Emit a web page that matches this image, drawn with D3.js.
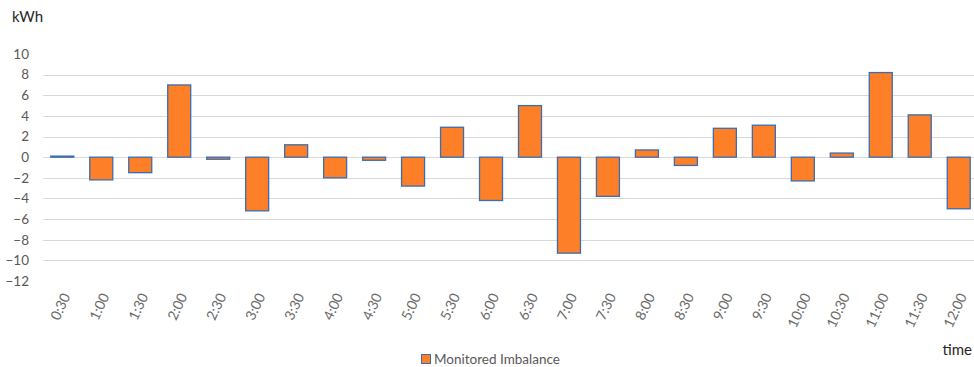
<!DOCTYPE html>
<html>
<head>
<meta charset="utf-8">
<script src="https://cdn.jsdelivr.net/npm/d3@7"></script>
<style>
  html, body { margin: 0; padding: 0; background: #fff; }
  svg { display: block; font-family: Lato, "Open Sans", sans-serif; }
</style>
</head>
<body>
<svg id="chart" width="974" height="367"></svg>
<script>
// Half-hourly time slots
const times = ["0:30","1:00","1:30","2:00","2:30","3:00","3:30","4:00","4:30","5:00","5:30","6:00",
               "6:30","7:00","7:30","8:00","8:30","9:00","9:30","10:00","10:30","11:00","11:30","12:00"];
// Monitored imbalance per slot (kWh)
const imbalance = [0.1, -2.2, -1.5, 7.0, -0.2, -5.2, 1.2, -2.0, -0.3, -2.8, 2.9, -4.2,
                   5.0, -9.3, -3.8, 0.7, -0.8, 2.8, 3.1, -2.3, 0.4, 8.2, 4.1, -5.0];
// Value axis ticks
const yTicks = [10, 8, 6, 4, 2, 0, -2, -4, -6, -8, -10, -12];
const seriesName = "Monitored Imbalance";

const svg = d3.select("#chart");
const plot = { left: 43, right: 974, top: 54, bottom: 281 };

const x = d3.scaleBand()
  .domain(times)
  .range([plot.left, 978])
  .paddingInner(0.41)
  .paddingOuter(0.2);

const y = d3.scaleLinear()
  .domain([-12, 10])
  .range([plot.bottom, plot.top]);

// Horizontal gridlines (interior ticks)
svg.append("g")
  .selectAll("line")
  .data(yTicks.filter(t => t !== 10 && t !== -12))
  .join("line")
  .attr("x1", plot.left)
  .attr("x2", plot.right)
  .attr("y1", d => Math.round(y(d)) + 0.5)
  .attr("y2", d => Math.round(y(d)) + 0.5)
  .attr("stroke", "#d9d9d9")
  .attr("stroke-width", 1);

// Y axis labels
const yAxis = d3.axisLeft(y).tickValues(yTicks).tickSize(0).tickPadding(0);
const yg = svg.append("g")
  .attr("transform", `translate(29,0)`)
  .call(yAxis);
yg.select(".domain").remove();
yg.selectAll("text")
  .attr("fill", "#595959")
  .style("font-size", "13.5px")
  .style("font-family", "Lato, 'Open Sans', sans-serif");

// Bars
svg.append("g")
  .selectAll("rect")
  .data(times.map((t, i) => ({ t, v: imbalance[i] })))
  .join("rect")
  .attr("x", d => x(d.t))
  .attr("width", x.bandwidth())
  .attr("y", d => y(Math.max(0, d.v)))
  .attr("height", d => Math.abs(y(d.v) - y(0)))
  .attr("fill", "#fd7f27")
  .attr("stroke", "#3b6db0")
  .attr("stroke-width", 1.3);

// X axis labels, rotated
const xAxis = d3.axisBottom(x).tickSize(0).tickPadding(0);
const xg = svg.append("g")
  .attr("transform", `translate(0,294)`)
  .call(xAxis);
xg.select(".domain").remove();
xg.selectAll("text")
  .attr("fill", "#6a6a6a")
  .style("font-size", "14px")
  .style("font-family", "Lato, 'Open Sans', sans-serif")
  .attr("text-anchor", "end")
  .attr("dy", "0.35em")
  .attr("transform", "translate(4,0) rotate(-65)");

// Axis titles
svg.append("text")
  .attr("x", 12).attr("y", 22)
  .attr("fill", "#262626")
  .style("font-size", "15px")
  .text("kWh");
svg.append("text")
  .attr("x", 972).attr("y", 355)
  .attr("text-anchor", "end")
  .attr("fill", "#262626")
  .style("font-size", "15px")
  .text("time");

// Legend
const lg = svg.append("g").attr("transform", "translate(421,354)");
lg.append("rect")
  .attr("x", 0.5).attr("y", 0.5).attr("width", 9).attr("height", 9)
  .attr("fill", "#fd7f27").attr("stroke", "#3b6db0").attr("stroke-width", 1);
lg.append("text")
  .attr("x", 13).attr("y", 10)
  .attr("fill", "#595959")
  .style("font-size", "13.5px")
  .text(seriesName);
</script>
</body>
</html>
